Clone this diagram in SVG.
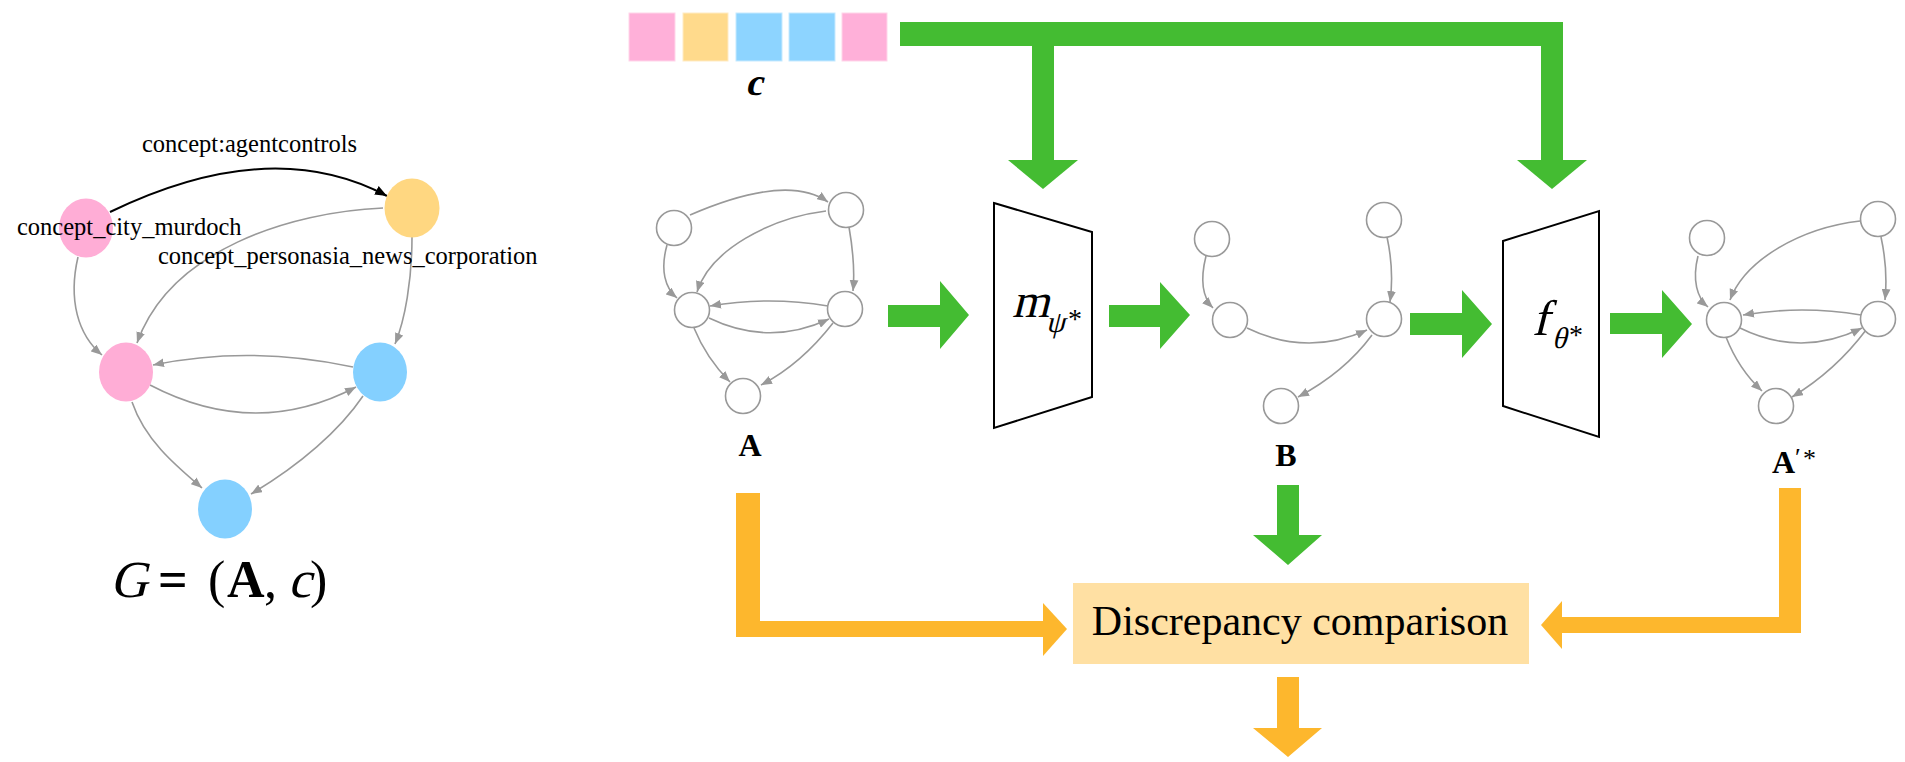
<svg xmlns="http://www.w3.org/2000/svg" width="1905" height="762" viewBox="0 0 1905 762">
<defs>
<style>
.t{font-family:"Liberation Serif","Times New Roman",serif;fill:#000}
.e{fill:none;stroke:#999;stroke-width:1.6;marker-end:url(#ag)}
.n{fill:#fff;stroke:#999;stroke-width:1.6}
.g{fill:#44BC32}
.o{fill:#FDB72D}
.tr{fill:#fff;stroke:#000;stroke-width:2}
</style>
<marker id="ag" viewBox="0 0 10 8" refX="10" refY="4" markerWidth="11" markerHeight="9" markerUnits="userSpaceOnUse" orient="auto"><path d="M0,0 L10,4 L0,8 z" fill="#999"/></marker>
<marker id="ak" viewBox="0 0 10 8" refX="10" refY="4" markerWidth="12" markerHeight="10" markerUnits="userSpaceOnUse" orient="auto"><path d="M0,0 L10,4 L0,8 z" fill="#000"/></marker>
</defs>
<rect width="1905" height="762" fill="#fff"/>

<!-- Left knowledge graph -->
<g id="kg-edges">
<path d="M110,212 Q271,134 387,196" fill="none" stroke="#000" stroke-width="2" marker-end="url(#ak)"/>
<path class="e" d="M383,208 C290,212 170,250 137,343"/>
<path class="e" d="M78,257 C68,300 78,335 102,355"/>
<path class="e" d="M412,237 C412,280 405,320 395,344"/>
<path class="e" d="M353,367 Q250,345 153,365"/>
<path class="e" d="M150,385 Q255,440 356,387"/>
<path class="e" d="M132,402 C145,440 175,465 202,488"/>
<path class="e" d="M363,396 C340,430 300,465 251,494"/>
</g>
<g id="kg-n1"><ellipse cx="86" cy="228" rx="27" ry="29.5" fill="#FFADD6"/></g>
<g id="kg-n2"><ellipse cx="412" cy="208" rx="27.5" ry="29.5" fill="#FFD781"/></g>
<g id="kg-n3"><ellipse cx="126" cy="372" rx="27" ry="29.5" fill="#FFADD6"/></g>
<g id="kg-n4"><ellipse cx="380" cy="372" rx="27" ry="29.5" fill="#84D0FF"/></g>
<g id="kg-n5"><ellipse cx="225" cy="509" rx="27" ry="29.5" fill="#84D0FF"/></g>
<g id="kg-labels">
<text class="t" x="142" y="152" font-size="24.5">concept:agentcontrols</text>
<text class="t" x="17" y="235" font-size="24.5">concept_city_murdoch</text>
<text class="t" x="158" y="264" font-size="24.5">concept_personasia_news_corporation</text>
</g>
<g id="kg-title" font-size="52">
<text class="t" transform="translate(110,597) skewX(-14)">G</text>
<text class="t" x="158" y="597" font-weight="bold">=</text>
<text class="t" x="208" y="597">(</text>
<text class="t" x="227" y="597" font-weight="bold">A</text>
<text class="t" x="264" y="597">,</text>
<text class="t" transform="translate(288,597) skewX(-14)">c</text>
<text class="t" x="310" y="597">)</text>
</g>

<!-- condition vector c -->
<g id="cond">
<rect x="629" y="13" width="46" height="48" fill="#FFB0D9" stroke="#FFD6EA" stroke-width="1"/>
<rect x="683" y="13" width="45" height="48" fill="#FFDA8C" stroke="#FFEBC4" stroke-width="1"/>
<rect x="736" y="13" width="46" height="48" fill="#8DD4FF" stroke="#C6EAFF" stroke-width="1"/>
<rect x="789" y="13" width="46" height="48" fill="#8DD4FF" stroke="#C6EAFF" stroke-width="1"/>
<rect x="842" y="13" width="45" height="48" fill="#FFB0D9" stroke="#FFD6EA" stroke-width="1"/>
<text class="t" transform="translate(745,95) skewX(-14)" font-size="38" font-weight="bold">c</text>
</g>

<!-- Graph A -->
<g id="graphA">
<path class="e" d="M690,215 Q787,173 828,202"/>
<path class="e" d="M826,211 C770,218 710,250 697,292"/>
<path class="e" d="M667,245 C660,270 665,288 677,298"/>
<path class="e" d="M849,227 C853,250 855,270 853,291"/>
<path class="e" d="M828,306 Q769,296 710,306"/>
<path class="e" d="M709,318 Q769,347 829,319"/>
<path class="e" d="M694,328 C703,350 715,367 730,382"/>
<path class="e" d="M833,323 C812,350 790,370 761,385"/>
<circle class="n" cx="674" cy="228" r="17.5"/>
<circle class="n" cx="846" cy="210" r="17.5"/>
<circle class="n" cx="692" cy="310" r="17.5"/>
<circle class="n" cx="845" cy="309" r="17.5"/>
<circle class="n" cx="743" cy="396" r="17.5"/>
<text class="t" x="750" y="456" font-size="32" font-weight="bold" text-anchor="middle">A</text>
</g>

<!-- m module -->
<g id="mpsi">
<polygon class="tr" points="994,203 1092,232 1092,397 994,428"/>
<text class="t" transform="translate(1012,317) skewX(-14)" font-size="48">m</text>
<text class="t" transform="translate(1046,332) skewX(-14)" font-size="30">ψ</text>
<text class="t" x="1068" y="328" font-size="28">*</text>
</g>

<!-- Graph B -->
<g id="graphB">
<path class="e" d="M1206,256 C1200,280 1203,298 1213,308"/>
<path class="e" d="M1387,237 C1392,260 1393,280 1390,302"/>
<path class="e" d="M1247,328 Q1307,357 1367,330"/>
<path class="e" d="M1372,335 C1355,358 1330,380 1298,397"/>
<circle class="n" cx="1212" cy="239" r="17.5"/>
<circle class="n" cx="1384" cy="220" r="17.5"/>
<circle class="n" cx="1230" cy="320" r="17.5"/>
<circle class="n" cx="1384" cy="319" r="17.5"/>
<circle class="n" cx="1281" cy="406" r="17.5"/>
<text class="t" x="1286" y="466" font-size="32" font-weight="bold" text-anchor="middle">B</text>
</g>

<!-- f module -->
<g id="ftheta">
<polygon class="tr" points="1503,241 1599,211 1599,437 1503,406"/>
<text class="t" transform="translate(1532,335) skewX(-14)" font-size="50">f</text>
<text class="t" transform="translate(1552,348) skewX(-14)" font-size="30">θ</text>
<text class="t" x="1569" y="344" font-size="28">*</text>
</g>

<!-- Graph A'* -->
<g id="graphAp">
<path class="e" d="M1698,256 C1692,280 1697,298 1708,307"/>
<path class="e" d="M1860,221 C1800,228 1745,260 1730,300"/>
<path class="e" d="M1881,237 C1886,260 1887,280 1885,300"/>
<path class="e" d="M1861,315 Q1802,305 1743,315"/>
<path class="e" d="M1740,328 Q1801,358 1862,328"/>
<path class="e" d="M1726,337 C1735,360 1747,377 1762,391"/>
<path class="e" d="M1866,330 C1845,358 1820,380 1792,397"/>
<circle class="n" cx="1707" cy="238" r="17.5"/>
<circle class="n" cx="1878" cy="219" r="17.5"/>
<circle class="n" cx="1724" cy="320" r="17.5"/>
<circle class="n" cx="1878" cy="319" r="17.5"/>
<circle class="n" cx="1776" cy="406" r="17.5"/>
<text class="t" x="1772" y="473" font-size="32" font-weight="bold">A</text>
<text class="t" x="1795" y="466" font-size="26">′</text>
<text class="t" x="1803" y="467" font-size="26">*</text>
</g>

<!-- Discrepancy box -->
<g id="disc">
<rect x="1073" y="583" width="456" height="81" fill="#FFE0A3"/>
<text class="t" x="1300" y="635" font-size="42" text-anchor="middle">Discrepancy comparison</text>
</g>

<!-- Connectors (block arrows) -->
<g id="connectors">
<rect class="g" x="900" y="22" width="663" height="24"/>
<rect class="g" x="1032" y="46" width="22" height="114"/>
<polygon class="g" points="1008,160 1078,160 1043,189"/>
<rect class="g" x="1541" y="46" width="22" height="114"/>
<polygon class="g" points="1517,160 1587,160 1552,189"/>
<polygon class="g" points="888,305 940,305 940,281 969,315 940,349 940,327 888,327"/>
<polygon class="g" points="1109,305 1160,305 1160,282 1190,315 1160,349 1160,327 1109,327"/>
<polygon class="g" points="1410,313 1462,313 1462,290 1492,324 1462,358 1462,335 1410,335"/>
<polygon class="g" points="1610,313 1662,313 1662,290 1692,324 1662,358 1662,334 1610,334"/>
<polygon class="g" points="1277,485 1299,485 1299,535 1322,535 1288,565 1253,535 1277,535"/>
<rect class="o" x="736" y="493" width="24" height="144"/>
<rect class="o" x="760" y="621" width="283" height="16"/>
<polygon class="o" points="1043,603 1067,629 1043,656"/>
<rect class="o" x="1779" y="488" width="22" height="145"/>
<rect class="o" x="1562" y="617" width="217" height="16"/>
<polygon class="o" points="1562,601 1541,625 1562,649"/>
<polygon class="o" points="1277,677 1299,677 1299,728 1322,728 1288,757 1253,728 1277,728"/>
</g>
</svg>
